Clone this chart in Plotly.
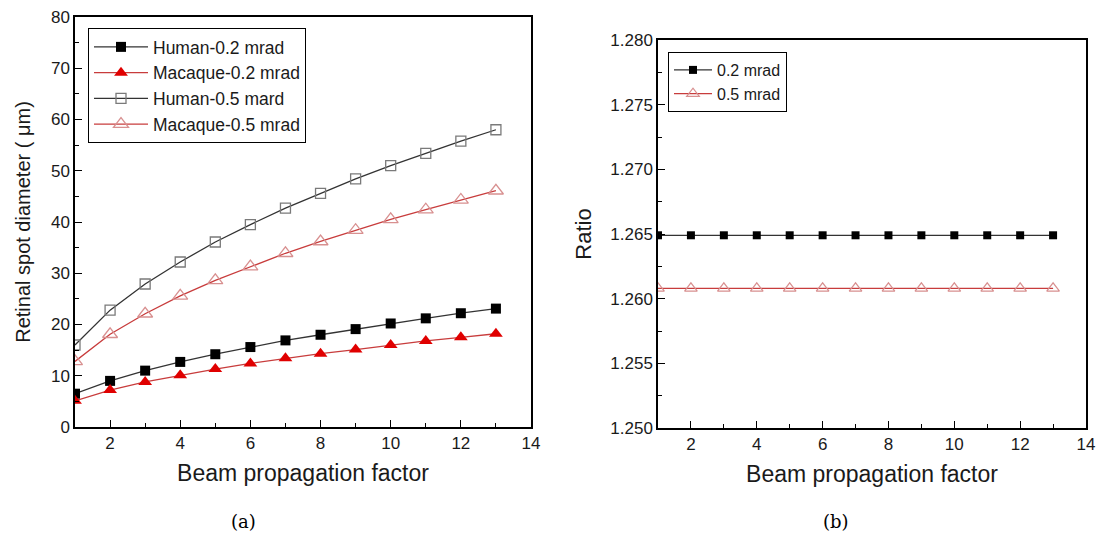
import plotly.graph_objects as go

# ---------------- data ----------------
beam_factor = [1, 2, 3, 4, 5, 6, 7, 8, 9, 10, 11, 12, 13]

human_02 = [6.5, 9.0, 11.0, 12.7, 14.2, 15.6, 16.9, 18.0, 19.1, 20.2, 21.2, 22.2, 23.1]
macaque_02 = [5.1, 7.2, 8.8, 10.1, 11.3, 12.4, 13.4, 14.3, 15.1, 16.0, 16.8, 17.5, 18.2]
human_05 = [16.0, 22.8, 27.9, 32.2, 36.1, 39.5, 42.7, 45.6, 48.4, 51.0, 53.4, 55.8, 58.0]
macaque_05 = [12.8, 18.1, 22.1, 25.6, 28.6, 31.3, 33.9, 36.2, 38.4, 40.5, 42.4, 44.3, 46.1]

ratio_02 = [1.2649, 1.2649, 1.2649, 1.2649, 1.2649, 1.2649, 1.2649,
            1.2649, 1.2649, 1.2649, 1.2649, 1.2649, 1.2649]
ratio_05 = [1.2608, 1.2608, 1.2608, 1.2608, 1.2608, 1.2608, 1.2608,
            1.2608, 1.2608, 1.2608, 1.2608, 1.2608, 1.2608]

left_names = ["Human-0.2 mrad", "Macaque-0.2 mrad", "Human-0.5 mard", "Macaque-0.5 mrad"]
right_names = ["0.2 mrad", "0.5 mrad"]

x_title = "Beam propagation factor"
y_title_left = "Retinal spot diameter ( μm)"
y_title_right = "Ratio"
captions = ["(a)", "(b)"]

# ---------------- styles ----------------
BLACK_LINE = "#333333"
RED_LINE = "#c83c3c"
RED_FILL = "#e00000"
PINK_OPEN = "#d89090"
GRAY_OPEN = "#7a7a7a"
FONT = "Liberation Sans, Arial, sans-serif"
TXT = "#1a1a1a"

fig = go.Figure()

fig.add_trace(go.Scatter(x=beam_factor, y=human_02, name=left_names[0], mode="lines+markers",
                         line=dict(color=BLACK_LINE, width=1.3),
                         marker=dict(symbol="square", size=10, color="black"),
                         xaxis="x", yaxis="y", legend="legend"))
fig.add_trace(go.Scatter(x=beam_factor, y=macaque_02, name=left_names[1], mode="lines+markers",
                         line=dict(color=RED_LINE, width=1.3),
                         marker=dict(symbol="triangle-up", size=12, color=RED_FILL),
                         xaxis="x", yaxis="y", legend="legend"))
fig.add_trace(go.Scatter(x=beam_factor, y=human_05, name=left_names[2], mode="lines+markers",
                         line=dict(color=BLACK_LINE, width=1.3),
                         marker=dict(symbol="square-open", size=10, color=GRAY_OPEN, line=dict(width=1.3)),
                         xaxis="x", yaxis="y", legend="legend"))
fig.add_trace(go.Scatter(x=beam_factor, y=macaque_05, name=left_names[3], mode="lines+markers",
                         line=dict(color=RED_LINE, width=1.3),
                         marker=dict(symbol="triangle-up-open", size=13, color=PINK_OPEN, line=dict(width=1.3)),
                         xaxis="x", yaxis="y", legend="legend"))

fig.add_trace(go.Scatter(x=beam_factor, y=ratio_02, name=right_names[0], mode="lines+markers",
                         line=dict(color=BLACK_LINE, width=1.3),
                         marker=dict(symbol="square", size=8, color="black"),
                         xaxis="x2", yaxis="y2", legend="legend2"))
fig.add_trace(go.Scatter(x=beam_factor, y=ratio_05, name=right_names[1], mode="lines+markers",
                         line=dict(color=RED_LINE, width=1.3),
                         marker=dict(symbol="triangle-up-open", size=11, color=PINK_OPEN, line=dict(width=1.2)),
                         xaxis="x2", yaxis="y2", legend="legend2"))

# The page body adds an 8px offset; size the figure to fit the window without scrolling.
OFF = 8
W, H = 1104 - OFF, 539 - 2 * OFF

def px_x(p):
    return (p - OFF) / W

def px_y(p):
    return 1 - (p - OFF) / H

axis_common = dict(showline=True, linecolor="black", linewidth=1.5, mirror=True,
                   ticks="inside", ticklen=7, tickwidth=1.3, tickcolor="black",
                   showgrid=False, zeroline=False, automargin=False,
                   ticklabeloverflow="allow",
                   tickfont=dict(family=FONT, size=17, color=TXT))

fig.update_layout(
    width=W, height=H,
    margin=dict(l=0, r=0, t=0, b=0, pad=0, autoexpand=False),
    paper_bgcolor="white", plot_bgcolor="white",
    font=dict(family=FONT, color=TXT),
    showlegend=True,
    xaxis=dict(domain=[px_x(75), px_x(531)], range=[1, 14], tick0=0, dtick=2,
               minor=dict(ticks="inside", ticklen=4, dtick=1, tick0=0, tickcolor="black"),
               title=dict(text=x_title, font=dict(family=FONT, size=23, color=TXT), standoff=13),
               anchor="y", **axis_common),
    yaxis=dict(domain=[px_y(427), px_y(17)], range=[0, 80], tick0=0, dtick=10,
               minor=dict(ticks="inside", ticklen=4, dtick=5, tick0=0, tickcolor="black"),
               title=dict(text=y_title_left, font=dict(family=FONT, size=20, color=TXT), standoff=15),
               anchor="x", **axis_common),
    xaxis2=dict(domain=[px_x(658), px_x(1086)], range=[1, 14], tick0=0, dtick=2,
                minor=dict(ticks="inside", ticklen=4, dtick=1, tick0=0, tickcolor="black"),
                title=dict(text=x_title, font=dict(family=FONT, size=23, color=TXT), standoff=13),
                anchor="y2", **axis_common),
    yaxis2=dict(domain=[px_y(428), px_y(40)], range=[1.25, 1.28], tick0=1.25, dtick=0.005,
                tickformat=".3f",
                minor=dict(ticks="inside", ticklen=4, dtick=0.0025, tick0=1.25, tickcolor="black"),
                title=dict(text=y_title_right, font=dict(family=FONT, size=22, color=TXT), standoff=13),
                anchor="x2", **axis_common),
    legend=dict(x=px_x(88), y=px_y(28), xanchor="left", yanchor="top",
                bordercolor="black", borderwidth=1, bgcolor="white",
                font=dict(family=FONT, size=17.5, color=TXT),
                itemwidth=54, tracegroupgap=0),
    legend2=dict(x=px_x(668), y=px_y(52), xanchor="left", yanchor="top",
                 bordercolor="black", borderwidth=1, bgcolor="white",
                 font=dict(family=FONT, size=16, color=TXT),
                 itemwidth=38, tracegroupgap=0),
    annotations=[
        dict(text=captions[0], x=px_x(243), y=px_y(521), xref="paper", yref="paper",
             xanchor="center", yanchor="middle",
             showarrow=False, font=dict(family="DejaVu Serif, Liberation Serif, serif", size=18, color="black")),
        dict(text=captions[1], x=px_x(836), y=px_y(521), xref="paper", yref="paper",
             xanchor="center", yanchor="middle",
             showarrow=False, font=dict(family="DejaVu Serif, Liberation Serif, serif", size=18, color="black")),
    ],
)

fig.write_html("out.html")
